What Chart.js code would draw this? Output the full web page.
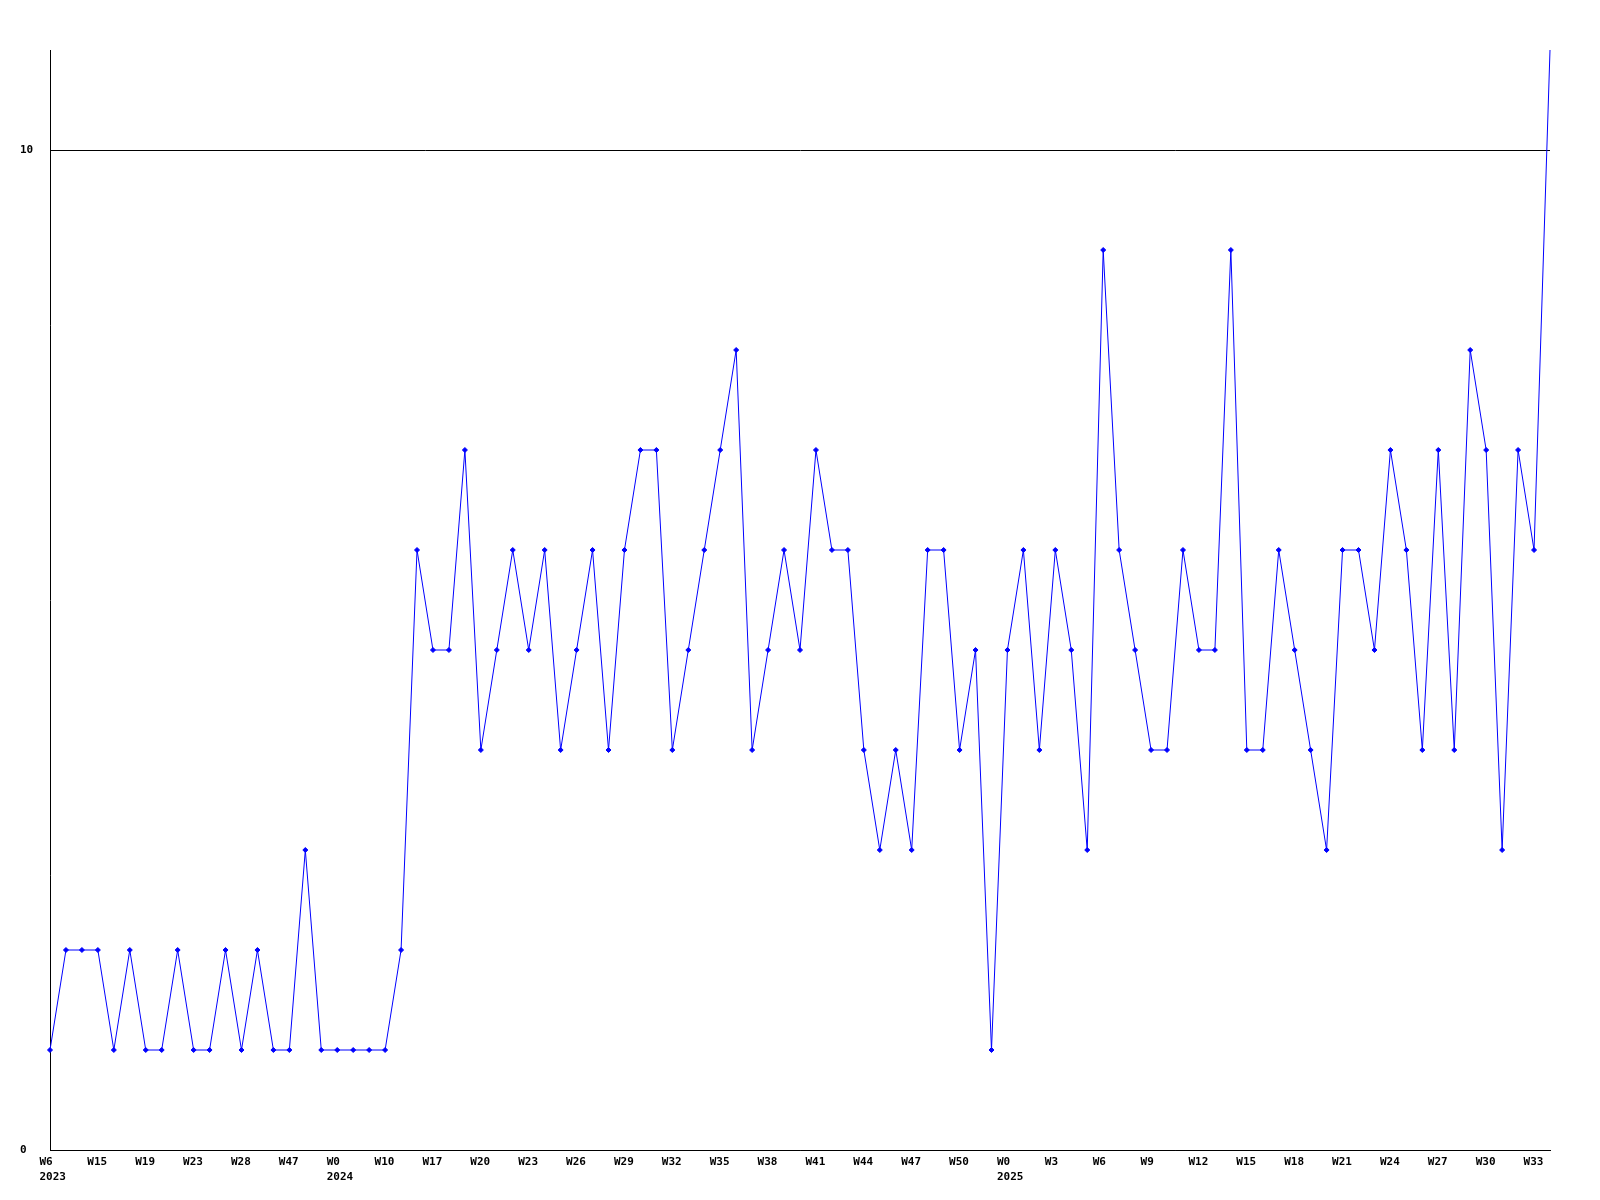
<!DOCTYPE html>
<html>
<head>
<meta charset="utf-8">
<script src="https://cdn.jsdelivr.net/npm/chart.js@4/dist/chart.umd.min.js"></script>
<style>
  html, body { margin: 0; padding: 0; background: #ffffff; }
  #wrap { width: 1600px; height: 1200px; }
</style>
</head>
<body>
<div id="wrap"><canvas id="c" width="1600" height="1200"></canvas></div>
<script>
// Tick labels shown every 3rd point
const tickLabels = ['W6','W15','W19','W23','W28','W47','W0','W10','W17','W20','W23','W26','W29','W32','W35','W38','W41','W44','W47','W50','W0','W3','W6','W9','W12','W15','W18','W21','W24','W27','W30','W33'];
// Year sub-labels, keyed by tick label position
const yearLabels = { 0: '2023', 6: '2024', 20: '2025' };
// Series values (95 points)
const values = [
  1,2,2,2,1,2,1,1,2,1,
  1,2,1,2,1,1,3,1,1,1,
  1,1,2,6,5,5,7,4,5,6,
  5,6,4,5,6,4,6,7,7,4,
  5,6,7,8,4,5,6,5,7,6,
  6,4,3,4,3,6,6,4,5,1,
  5,6,4,6,5,3,9,6,5,4,
  4,6,5,5,9,4,4,6,5,4,
  3,6,6,5,7,6,4,7,4,8,
  7,3,7,6,11
];
const yTicks = [0, 10];
const yMax = 11;
const tickEvery = 3;

const categories = values.map((v, i) => {
  if (i % tickEvery !== 0) return '';
  const k = i / tickEvery;
  const lbl = tickLabels[k];
  if (lbl === undefined) return '';
  return yearLabels[k] ? [lbl, yearLabels[k]] : lbl;
});

const font = { family: '"DejaVu Sans Mono", monospace', size: 11, weight: 'bold', lineHeight: '15px' };

new Chart(document.getElementById('c'), {
  type: 'line',
  data: {
    labels: categories,
    datasets: [{
      data: values,
      borderColor: '#0000ff',
      backgroundColor: '#0000ff',
      borderWidth: 1,
      pointStyle: 'rectRot',
      // markers at the plot edge are clipped away in the reference
      pointRadius: ctx => (ctx.raw >= yMax ? 0 : 2.5),
      pointBorderWidth: 1,
      pointBorderColor: '#0000ff',
      pointBackgroundColor: '#0000ff',
      tension: 0,
      fill: false
    }]
  },
  options: {
    responsive: false,
    animation: false,
    devicePixelRatio: 1,
    layout: { padding: { left: 20, top: 50, right: 50, bottom: 0 } },
    plugins: { legend: { display: false }, tooltip: { enabled: false } },
    scales: {
      x: {
        type: 'category',
        offset: false,
        grid: { display: false, drawTicks: false },
        border: { display: true, color: '#000000', width: 1 },
        ticks: {
          autoSkip: false,
          maxRotation: 0,
          minRotation: 0,
          align: 'start',
          labelOffset: -10.5,
          padding: 4.5,
          color: '#000000',
          font: font
        },
        afterFit: s => { s.height = 50; }
      },
      y: {
        min: 0,
        max: yMax,
        grid: { color: '#000000', lineWidth: 1, drawTicks: false },
        border: { display: true, color: '#000000', width: 1 },
        afterBuildTicks: s => { s.ticks = yTicks.map(v => ({ value: v })); },
        ticks: {
          crossAlign: 'far',
          padding: 0,
          color: '#000000',
          font: font
        },
        afterFit: s => { s.width = 30; }
      }
    }
  }
});
</script>
</body>
</html>
